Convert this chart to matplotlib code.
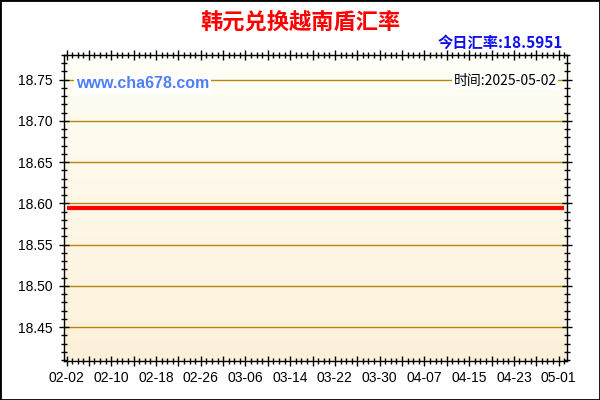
import matplotlib
matplotlib.use("Agg")
import matplotlib.pyplot as plt
import matplotlib.dates as mdates
from matplotlib.colors import LinearSegmentedColormap
from matplotlib.patches import Rectangle
import numpy as np
from datetime import datetime, timedelta

# chart texts
title = "韩元兑换越南盾汇率"
today_label = "今日汇率:18.5951"
time_label = "时间:2025-05-02"
watermark = "www.cha678.com"

# data: the rate stays flat over the whole period
dates = ["2025-02-02", "2025-05-02"]
rates = [18.5951, 18.5951]

# x tick labels (every 8 days)
label_dates = ["2025-02-02", "2025-02-10", "2025-02-18", "2025-02-26",
               "2025-03-06", "2025-03-14", "2025-03-22", "2025-03-30",
               "2025-04-07", "2025-04-15", "2025-04-23", "2025-05-01"]
y_ticks = [18.45, 18.50, 18.55, 18.60, 18.65, 18.70, 18.75]

cjk = ["Noto Sans CJK SC", "DejaVu Sans"]

x = [datetime.strptime(d, "%Y-%m-%d") for d in dates]
x_labels = [datetime.strptime(d, "%Y-%m-%d") for d in label_dates]

fig = plt.figure(figsize=(6, 4), dpi=100)
fig.patch.set_facecolor("white")
ax = fig.add_axes([64 / 600, 1 - 361 / 400, (567 - 64) / 600, (361 - 55) / 400])

# background gradient, near white at top to light cream at bottom
cmap = LinearSegmentedColormap.from_list("bg", ["#fdf0d9", "#fffff7"])
ax.imshow(np.linspace(0, 1, 256).reshape(-1, 1), cmap=cmap, origin="lower",
          extent=[0, 1, 0, 1], transform=ax.transAxes, aspect="auto", zorder=0)

for yt in y_ticks:
    ax.axhline(yt, color="#b8860b", lw=1, zorder=1)

ax.plot(x, rates, color="#ff0000", lw=3, zorder=3, solid_capstyle="butt")

start = x_labels[0] - timedelta(days=0.45)
end = x[-1] + timedelta(days=0.5)
ax.set_xlim(start, end)
ax.set_ylim(18.409, 18.780)

# ticks
major_x = [mdates.date2num(x_labels[0]) + 4 * i for i in range(23)]
ax.xaxis.set_major_locator(matplotlib.ticker.FixedLocator(major_x))
lab_nums = set(round(mdates.date2num(d)) for d in x_labels)
ax.xaxis.set_major_formatter(matplotlib.ticker.FuncFormatter(
    lambda v, p: mdates.num2date(v).strftime("%m-%d") if round(v) in lab_nums else ""))
ax.xaxis.set_minor_locator(mdates.DayLocator())
ax.set_yticks(y_ticks)
ax.yaxis.set_major_formatter(matplotlib.ticker.FormatStrFormatter("%.2f"))
ax.yaxis.set_minor_locator(matplotlib.ticker.MultipleLocator(0.01))

ax.tick_params(which="major", direction="inout", length=7, width=1,
               labelsize=10, top=True, right=True, color="black")
ax.tick_params(which="minor", direction="inout", length=4, width=1,
               top=True, right=True)
ax.tick_params(axis="y", pad=5)
ax.tick_params(axis="x", pad=4)
for lab in ax.get_xticklabels() + ax.get_yticklabels():
    lab.set_family(["Liberation Sans", "DejaVu Sans"])
for s in ax.spines.values():
    s.set_color("black")
    s.set_linewidth(1)

# texts
fig.text(0.5, 1 - 22 / 400, title, color="#ff0000", fontsize=16,
         fontweight="bold", ha="center", va="center", family=cjk)
fig.text(563 / 600, 1 - 43 / 400, today_label, color="#1010ee", fontsize=11,
         fontweight="bold", ha="right", va="center", family=cjk)
fig.text(76 / 600, 1 - 84 / 400, watermark, color="#4f7ff5", fontsize=11.5,
         fontweight="bold", ha="left", va="center",
         family=["Liberation Sans", "DejaVu Sans"],
         bbox=dict(facecolor="white", edgecolor="none", pad=1.5), zorder=5)
fig.text(557 / 600, 1 - 81 / 400, time_label, color="black", fontsize=10,
         ha="right", va="center", family=cjk,
         bbox=dict(facecolor="white", edgecolor="none", pad=1), zorder=5)

# figure border
fig.patches.append(Rectangle((0, 0), 1, 1, transform=fig.transFigure,
                             fill=False, edgecolor="black", lw=2))

fig.savefig("out.png", dpi=100)
